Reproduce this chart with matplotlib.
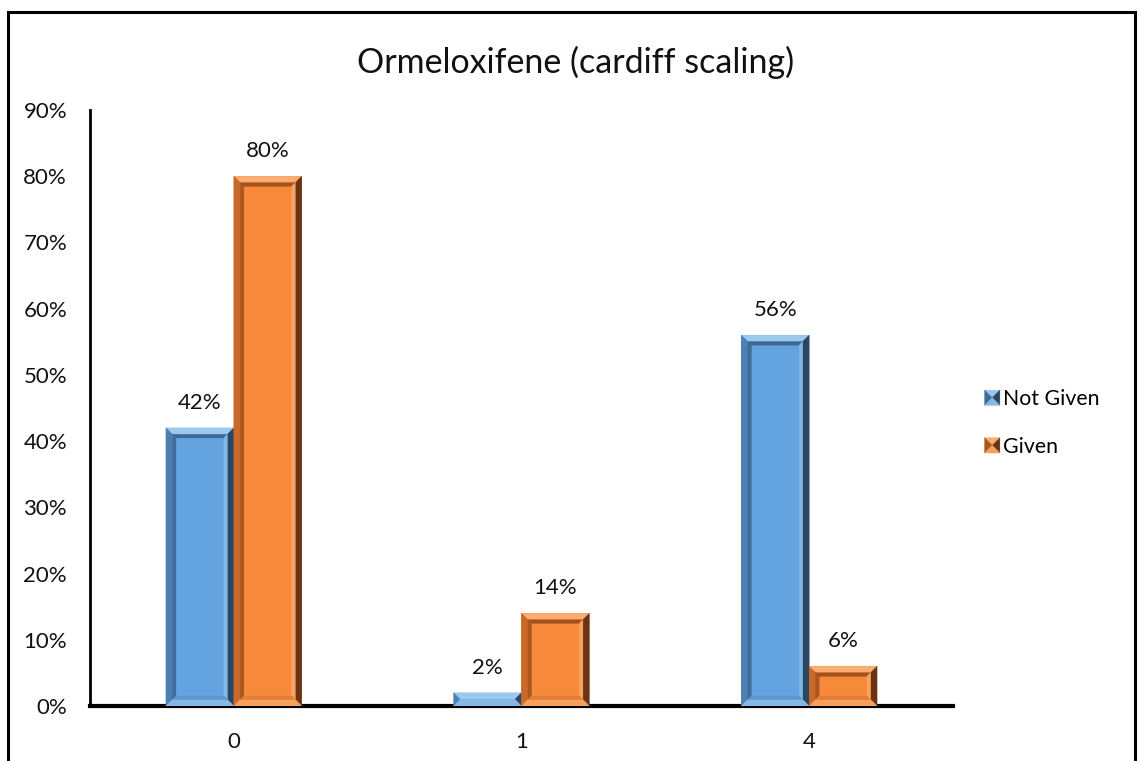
import matplotlib
matplotlib.use("Agg")
import matplotlib.pyplot as plt
from matplotlib.patches import Polygon, Rectangle
from matplotlib.legend_handler import HandlerBase
from matplotlib.ticker import PercentFormatter

plt.rcParams['font.family'] = ['Lato', 'DejaVu Sans']

title = "Ormeloxifene (cardiff scaling)"
categories = ["0", "1", "4"]
series_names = ["Not Given", "Given"]
not_given = [42, 2, 56]
given = [80, 14, 6]
y_ticks = [0, 10, 20, 30, 40, 50, 60, 70, 80, 90]

# face colour plus shades for the bevelled edges:
# (face, outer top, outer left, outer right, outer bottom,
#  inner top, inner left, inner right, inner bottom)
palettes = {
    "Not Given": ("#62A3E0", "#9CC7EE", "#4B80B3", "#2A4762", "#86B8E6",
                  "#3C6892", "#3F6D99", "#82B6E6", "#5C97CF"),
    "Given": ("#F7893B", "#FAAD70", "#C9692A", "#6A3412", "#F6A05C",
              "#A4511B", "#AA561E", "#F9A464", "#E27D36"),
}

W, H, DPI = 1139, 761, 100
fig = plt.figure(figsize=(W / DPI, H / DPI), dpi=DPI)
fig.patch.set_facecolor("white")

# chart frame
fig.add_artist(Rectangle((8 / W, -0.02), (1135 - 8) / W, (H - 12) / H + 0.02,
                         transform=fig.transFigure, fill=False,
                         edgecolor="black", linewidth=2.2, clip_on=False))

ax_left, ax_right = 90 / W, 953 / W
ax_bottom, ax_top = (H - 706) / H, (H - 110) / H
ax = fig.add_axes([ax_left, ax_bottom, ax_right - ax_left, ax_top - ax_bottom])

x = list(range(len(categories)))
bw = 0.236
ax.set_xlim(-0.5, len(categories) - 0.5)
ax.set_ylim(0, 90)

bars_ng = ax.bar([i - bw / 2 for i in x], not_given, width=bw,
                 color=palettes["Not Given"][0], linewidth=0, zorder=2)
bars_g = ax.bar([i + bw / 2 for i in x], given, width=bw,
                color=palettes["Given"][0], linewidth=0, zorder=2)


def bevel(ax, rect, pal, outer_px=6.5, inner_px=3.5):
    """Decorate a bar with an outer bevel band and an inner groove."""
    to_disp = ax.transData
    to_data = ax.transData.inverted()
    x0, y0 = rect.get_x(), rect.get_y()
    x1, y1 = x0 + rect.get_width(), y0 + rect.get_height()
    (px0, py0), (px1, py1) = to_disp.transform([(x0, y0), (x1, y1)])

    def band(l, b, r, t, width, cols):
        bwid = min(width, (r - l) / 2, (t - b) / 2)
        il, ib, ir, it = l + bwid, b + bwid, r - bwid, t - bwid
        quads = [
            ([(l, t), (r, t), (ir, it), (il, it)], cols[0]),   # top
            ([(l, b), (l, t), (il, it), (il, ib)], cols[1]),   # left
            ([(r, b), (ir, ib), (ir, it), (r, t)], cols[2]),   # right
            ([(l, b), (il, ib), (ir, ib), (r, b)], cols[3]),   # bottom
        ]
        for pts, c in quads:
            ax.add_patch(Polygon(to_data.transform(pts), closed=True,
                                 facecolor=c, edgecolor=c, linewidth=0.3,
                                 zorder=3))
        return il, ib, ir, it

    il, ib, ir, it = band(px0, py0, px1, py1, outer_px, pal[1:5])
    if (ir - il) > 2 * inner_px and (it - ib) > 2 * inner_px:
        band(il, ib, ir, it, inner_px, pal[5:9])


for bars, name in ((bars_ng, "Not Given"), (bars_g, "Given")):
    for rect in bars:
        bevel(ax, rect, palettes[name])

# value labels
for bars, vals in ((bars_ng, not_given), (bars_g, given)):
    for rect, v in zip(bars, vals):
        ax.annotate(f"{v}%", (rect.get_x() + rect.get_width() / 2, v),
                    xytext=(0, 18), textcoords="offset points",
                    ha="center", va="center", fontsize=16, color="#111111")

# axes styling
for s in ("top", "right"):
    ax.spines[s].set_visible(False)
ax.spines["left"].set_linewidth(2.0)
ax.spines["bottom"].set_linewidth(3.0)
ax.set_xticks(x)
ax.set_xticklabels(categories)
ax.set_yticks(y_ticks)
ax.yaxis.set_major_formatter(PercentFormatter(100, decimals=0))
ax.tick_params(axis="both", length=0, labelsize=16, colors="#111111")
ax.tick_params(axis="y", pad=16.5)
ax.tick_params(axis="x", pad=19)
ax.set_facecolor("none")

fig.text(576 / W, 1 - 62 / H, title, ha="center", va="center",
         fontsize=24.5, color="#111111")


class BevelSquareHandler(HandlerBase):
    def __init__(self, pal):
        super().__init__()
        self.pal = pal

    def create_artists(self, legend, orig_handle, xdescent, ydescent,
                       width, height, fontsize, trans):
        s = 11
        l = width - s
        b = (height - s) / 2 - ydescent
        r, t = l + s, b + s
        cx, cy = l + s / 2, b + s / 2
        pal = self.pal
        tris = [
            ([(l, t), (r, t), (cx, cy)], pal[1]),
            ([(l, b), (l, t), (cx, cy)], pal[6]),
            ([(r, b), (r, t), (cx, cy)], pal[3]),
            ([(l, b), (r, b), (cx, cy)], pal[4]),
        ]
        return [Polygon(pts, closed=True, facecolor=c, edgecolor=c,
                        linewidth=0.3, transform=trans) for pts, c in tris]


h_ng = Rectangle((0, 0), 1, 1)
h_g = Rectangle((0, 0), 1, 1)
fig.legend([h_ng, h_g], series_names,
           handler_map={h_ng: BevelSquareHandler(palettes["Not Given"]),
                        h_g: BevelSquareHandler(palettes["Given"])},
           loc="center left", bbox_to_anchor=(968 / W, 1 - 423 / H),
           frameon=False, fontsize=15.3, handlelength=1.0, handletextpad=0.15,
           labelspacing=1.3, borderpad=0)

fig.savefig("out.png", dpi=DPI, facecolor="white")
